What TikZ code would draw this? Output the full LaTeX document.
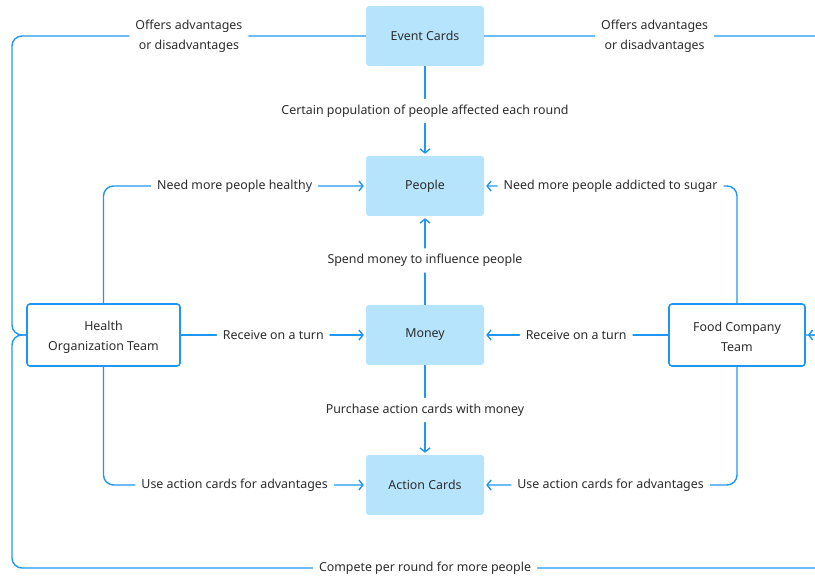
\documentclass[tikz,border=0pt]{standalone}
\usepackage{fontspec}
\setmainfont{Noto Sans}
\usetikzlibrary{arrows.meta}
\definecolor{lineblue}{RGB}{30,150,243}
\definecolor{cardblue}{RGB}{182,228,253}
\definecolor{textgray}{RGB}{45,45,45}

\begin{document}
\begin{tikzpicture}[x=1pt,y=-1pt,
  every node/.style={font=\fontsize{12.4}{20}\selectfont, text=textgray},
  card/.style={fill=cardblue, rounded corners=3pt, minimum width=118pt, minimum height=60pt},
  team/.style={draw=lineblue, line width=1.6pt, fill=white, rounded corners=3pt, minimum height=62pt, align=center},
  lbl/.style={fill=white, inner sep=6pt, align=center},
  link/.style={lineblue, line width=1.4pt, rounded corners=10pt},
  tip/.style={-{Straight Barb[length=4pt,width=10pt]}, shorten >=2pt}]
\useasboundingbox (0,0) rectangle (815,577);
\clip (0,0) rectangle (815,577);
\node[card] (event) at (425,36) {Event Cards};
\node[card] (people) at (425,186) {People};
\node[card] (money) at (425,335) {Money};
\node[card] (action) at (425,485) {Action Cards};
\node[team, minimum width=153pt] (health) at (103.5,335) {\strut Health\\Organization Team};
\node[team, minimum width=136pt] (food) at (737,335) {\strut Food Company\\Team};
\coordinate (nw) at (12,36);
\coordinate (ne) at (825,36);
\coordinate (sw) at (12,568);
\coordinate (se) at (825,568);
% outer loop
\draw[link] (event.west) -- node[lbl] (offerl) {Offers advantages\\or disadvantages} (nw) |- (health.west);
\draw[link,tip] (event.east) -- node[lbl] (offerr) {Offers advantages\\or disadvantages} (ne) |- (food.east);
\draw[link] (health.west) -| (sw) -- node[lbl,pos=0.508] (compete) {Compete per round for more people} (se) |- (food.east);
% centre column
\draw[link,tip] (event.south) -- node[lbl] (affect) {Certain population of people affected each round} (people.north);
\draw[link,tip] (money.north) -- node[lbl] (spend) {Spend money to influence people} (people.south);
\draw[link,tip] (money.south) -- node[lbl] (buy) {Purchase action cards with money} (action.north);
% teams
\draw[link,tip] (health.north) |- node[lbl,pos=0.75] (healthy) {Need more people healthy} (people.west);
\draw[link,tip] (food.north) |- node[lbl,pos=0.75] (sugar) {Need more people addicted to sugar} (people.east);
\draw[link,tip] (health.east) -- node[lbl] (recvl) {Receive on a turn} (money.west);
\draw[link,tip] (food.west) -- node[lbl] (recvr) {Receive on a turn} (money.east);
\draw[link,tip] (health.south) |- node[lbl,pos=0.75] (usel) {Use action cards for advantages} (action.west);
\draw[link,tip] (food.south) |- node[lbl,pos=0.75] (user) {Use action cards for advantages} (action.east);
\end{tikzpicture}
\end{document}
